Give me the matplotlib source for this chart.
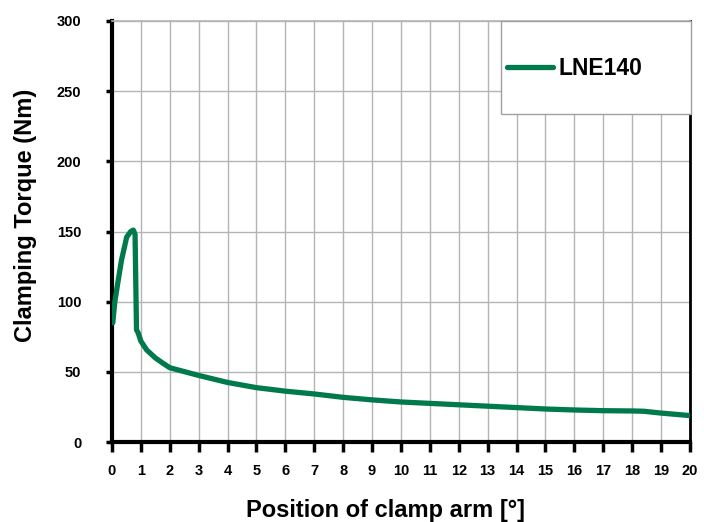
import matplotlib
matplotlib.use("Agg")
import matplotlib.pyplot as plt
from matplotlib.patches import Rectangle

plt.rcParams['font.family'] = ['Liberation Sans', 'DejaVu Sans']

# Data
position_deg = [0.03, 0.1, 0.2, 0.33, 0.51, 0.65, 0.74, 0.8, 0.85, 0.91, 1.0, 1.2,
                1.5, 1.78, 2.0, 3.0, 4.0, 5.0, 6.0, 7.0, 8.0, 9.0, 10.0, 11.0,
                12.0, 13.0, 14.0, 15.0, 16.0, 17.0, 18.0, 18.4, 19.0, 20.0]
torque_nm = [85, 100, 113, 129.5, 146, 150, 151, 148, 80, 77.7, 72, 65.7,
             60, 56, 53, 47.5, 42.5, 38.8, 36.3, 34.3, 31.9, 30.1, 28.6, 27.6,
             26.6, 25.6, 24.6, 23.6, 22.9, 22.4, 22.2, 22.0, 20.7, 18.9]
series_name = "LNE140"
x_ticks = list(range(0, 21))
y_ticks = [0, 50, 100, 150, 200, 250, 300]

W, H = 704, 522
fig = plt.figure(figsize=(W / 100, H / 100), dpi=100)
ax = fig.add_axes([0.159, 0.153, 0.821, 0.807])

line_color = '#007a4d'
ax.plot(position_deg, torque_nm, color=line_color, lw=3.8, solid_joinstyle='round',
        solid_capstyle='round', label=series_name, zorder=3)

ax.set_xlim(0, 20)
ax.set_ylim(0, 300)
ax.set_xticks(x_ticks)
ax.set_yticks(y_ticks)
ax.grid(True, color='#b4b4b4', lw=1.0)
ax.set_axisbelow(True)

for side in ['left', 'bottom']:
    ax.spines[side].set_linewidth(3)
    ax.spines[side].set_color('black')
ax.spines['right'].set_linewidth(2)
ax.spines['right'].set_color('black')
ax.spines['top'].set_linewidth(1.2)
ax.spines['top'].set_color('#b4b4b4')

ax.tick_params(axis='x', direction='out', length=7, width=2.5, pad=9,
               labelsize=10.5)
ax.tick_params(axis='y', direction='out', length=4, width=2.5, pad=18,
               labelsize=10.5)
for lab in ax.get_xticklabels() + ax.get_yticklabels():
    lab.set_fontweight('bold')

ax.set_xlabel("Position of clamp arm [°]", fontsize=17, fontweight='bold')
ax.set_ylabel("Clamping Torque (Nm)", fontsize=17, fontweight='bold')
ax.xaxis.set_label_coords(0.474, -0.136)
ax.yaxis.set_label_coords(-0.13, 0.538)

# Legend box (white, gray edge) covering the grid in the top-right corner
box = Rectangle((501 / W, 1 - 114 / H), 190 / W, 93 / H, transform=fig.transFigure,
                facecolor='white', edgecolor='#a0a0a0', lw=1.0, zorder=4,
                clip_on=False)
ax.add_patch(box)

leg = ax.legend(loc='center left', bbox_to_anchor=(507 / W, 1 - 68.5 / H),
                bbox_transform=fig.transFigure, frameon=False,
                borderaxespad=0, borderpad=0, prop={'size': 16.5, 'weight': 'bold'},
                handlelength=2.0, handletextpad=0.25)
leg.set_zorder(6)
for h in leg.get_lines():
    h.set_linewidth(3.8)
    h.set_solid_capstyle('round')

fig.savefig("out.png", dpi=100)
